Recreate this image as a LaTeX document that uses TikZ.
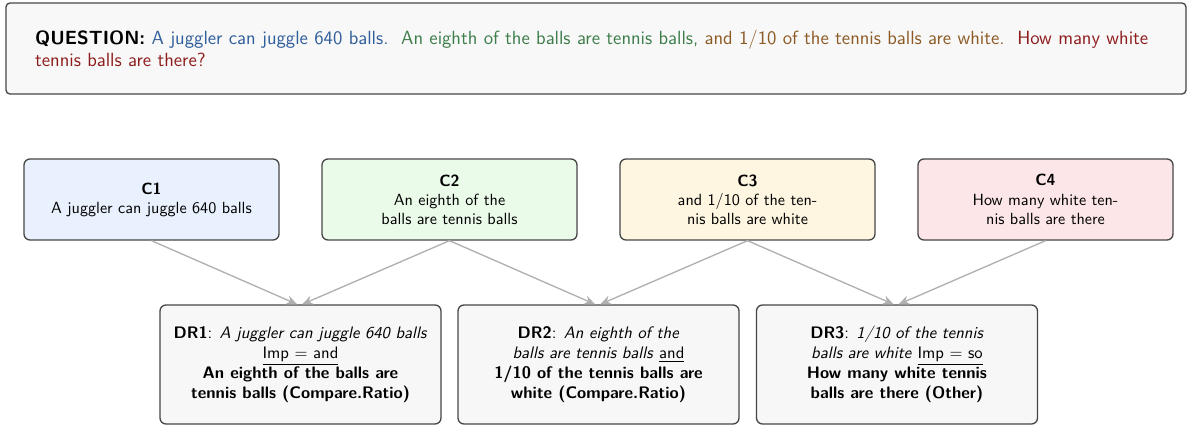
\documentclass[tikz,border=0pt]{standalone}
\usepackage{fontspec}
\renewcommand{\familydefault}{\sfdefault}
\usetikzlibrary{arrows.meta}
\definecolor{qfill}{HTML}{F8F8F8}
\definecolor{drfill}{HTML}{F7F7F7}
\definecolor{bord}{HTML}{464646}
\definecolor{cone}{HTML}{E8F1FD}
\definecolor{ctwo}{HTML}{EBFBEA}
\definecolor{cthree}{HTML}{FEF6E1}
\definecolor{cfour}{HTML}{FCE6E7}
\definecolor{qblue}{HTML}{2F5D9B}
\definecolor{qgreen}{HTML}{3C7D4A}
\definecolor{qbrown}{HTML}{8C5A24}
\definecolor{qred}{HTML}{8E1C1C}
\definecolor{conncol}{HTML}{B0B0B0}
\begin{document}
\begin{tikzpicture}[x=0.6pt,y=-0.6pt,
  box/.style={draw=bord, line width=0.8pt, rounded corners=3.6pt, align=center, inner sep=2pt},
  cbox/.style={box, minimum width=153pt, minimum height=48.6pt, font=\fontsize{9.7}{11.5}\selectfont},
  drbox/.style={box, fill=drfill, minimum width=168.6pt, minimum height=71.4pt},
  conn/.style={draw=conncol, line width=0.8pt, -{Stealth[length=6.5pt,width=5.5pt]}}]
\useasboundingbox (0,0) rectangle (1192,427);
\node[draw=bord, line width=0.8pt, rounded corners=2.4pt, fill=qfill,
      minimum width=708pt, minimum height=54.6pt, inner xsep=17.4pt,
      text width=673pt, align=left, font=\fontsize{11.45}{13.2}\selectfont] (Q) at (596,48.5)
  {\textbf{QUESTION:} \textcolor{qblue}{A juggler can juggle 640 balls.}\ \ \textcolor{qgreen}{An eighth of the balls are tennis balls,} \textcolor{qbrown}{and 1/10 of the tennis balls are white.}\ \ \textcolor{qred}{How many white}\\\textcolor{qred}{tennis balls are there?}};
\node[cbox, fill=cone] (C1) at (151.5,199.5) {\textbf{C1}\\A juggler can juggle 640 balls};
\node[cbox, fill=ctwo] (C2) at (449.5,199.5) {\textbf{C2}\\An eighth of the\\balls are tennis balls};
\node[cbox, fill=cthree] (C3) at (747.5,199.5) {\textbf{C3}\\and 1/10 of the ten-\\nis balls are white};
\node[cbox, fill=cfour] (C4) at (1045.5,199.5) {\textbf{C4}\\How many white ten-\\nis balls are there};
\node[drbox] (DR1) at (300.5,364.5) {\textbf{DR1}: \textit{A juggler can juggle 640 balls}\\\underline{Imp $=$ and}\\\textbf{An eighth of the balls are}\\\textbf{tennis balls (Compare.Ratio)}};
\node[drbox] (DR2) at (598.5,364.5) {\textbf{DR2}: \textit{An eighth of the}\\\textit{balls are tennis balls} \underline{and}\\\textbf{1/10 of the tennis balls are}\\\textbf{white (Compare.Ratio)}};
\node[drbox] (DR3) at (897,364.5) {\textbf{DR3}: \textit{1/10 of the tennis}\\\textit{balls are white} \underline{Imp $=$ so}\\\textbf{How many white tennis}\\\textbf{balls are there (Other)}};
\draw[conn] (C1.south) -- ([xshift=-2pt]DR1.north);
\draw[conn] (C2.south) -- ([xshift=1pt]DR1.north);
\draw[conn] (C2.south) -- ([xshift=-2pt]DR2.north);
\draw[conn] (C3.south) -- ([xshift=1pt]DR2.north);
\draw[conn] (C3.south) -- ([xshift=-2pt]DR3.north);
\draw[conn] (C4.south) -- ([xshift=1pt]DR3.north);
\end{tikzpicture}
\end{document}
